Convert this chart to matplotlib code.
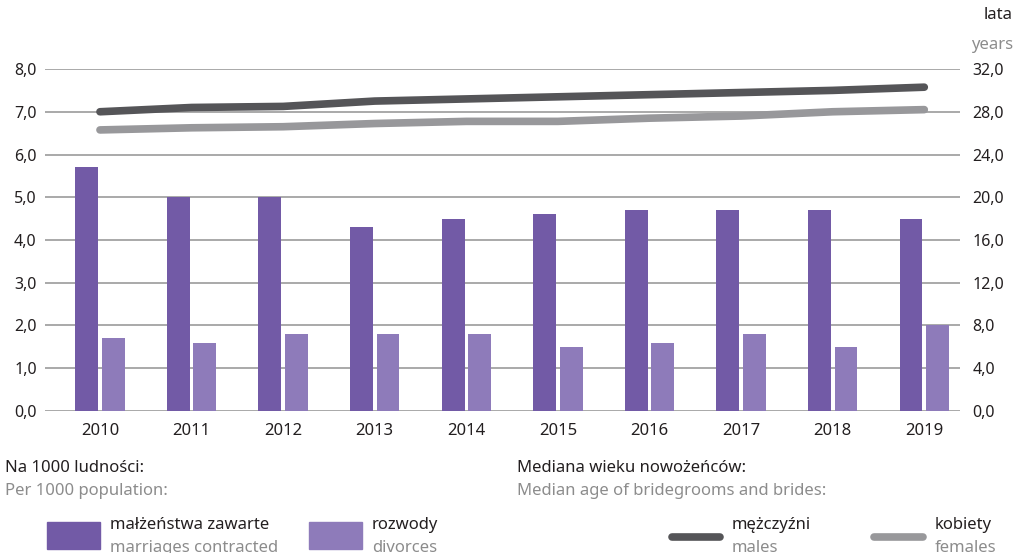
import matplotlib
matplotlib.use('Agg')
import matplotlib.pyplot as plt
import numpy as np
from matplotlib.patches import Rectangle
from matplotlib.lines import Line2D

plt.rcParams['font.family'] = ['Noto Sans', 'DejaVu Sans']

years = ['2010', '2011', '2012', '2013', '2014', '2015', '2016', '2017', '2018', '2019']
marriages = [5.7, 5.0, 5.0, 4.3, 4.5, 4.6, 4.7, 4.7, 4.7, 4.5]
divorces = [1.7, 1.6, 1.8, 1.8, 1.8, 1.5, 1.6, 1.8, 1.5, 2.0]
males_age = [28.0, 28.4, 28.5, 29.0, 29.2, 29.4, 29.6, 29.8, 30.0, 30.3]
females_age = [26.3, 26.5, 26.6, 26.9, 27.1, 27.1, 27.4, 27.6, 28.0, 28.2]

c_marr = '#725aa6'
c_div = '#8e7bba'
c_male = '#555558'
c_fem = '#98989b'
c_text = '#231f20'
c_gray = '#8c8c8c'
c_grid = '#a3a3a3'

fig = plt.figure(figsize=(10.16, 5.53), dpi=100)
ax = fig.add_axes([0.0443, 0.2568, 0.9006, 0.6184])
ax2 = ax.twinx()

x = np.arange(len(years))
w = 0.25
ax.bar(x - 0.145, marriages, width=w, color=c_marr, zorder=3)
ax.bar(x + 0.145, divorces, width=w, color=c_div, zorder=3)

ax.set_ylim(0, 8)
ax.set_yticks(np.arange(0, 8.01, 1))
ax.set_yticklabels([f'{v:.1f}'.replace('.', ',') for v in np.arange(0, 8.01, 1)])
ax.grid(axis='y', color=c_grid, linewidth=1.3, zorder=0)
ax.set_axisbelow(True)
ax.set_xlim(-0.6, 9.39)
ax.set_xticks(x)
ax.set_xticklabels(years)

ax2.set_ylim(0, 32)
ax2.set_yticks(np.arange(0, 32.01, 4))
ax2.set_yticklabels([f'{v:.1f}'.replace('.', ',') for v in np.arange(0, 32.01, 4)])
ax2.plot(x, males_age, color=c_male, linewidth=5.5, solid_capstyle='round', zorder=4)
ax2.plot(x, females_age, color=c_fem, linewidth=5.5, solid_capstyle='round', zorder=4)

for a in (ax, ax2):
    for s in a.spines.values():
        s.set_visible(False)
    a.tick_params(length=0, labelsize=11.5, colors=c_text)
ax.tick_params(axis='y', pad=6)
ax2.tick_params(axis='y', pad=9)
ax.tick_params(axis='x', pad=9, labelsize=12)

fig.text(0.997, 0.972, 'lata', ha='right', va='center', fontsize=12, color=c_text)
fig.text(0.997, 0.918, 'years', ha='right', va='center', fontsize=12, color=c_gray)

# legend area
fs = 12
fig.text(0.005, 0.153, 'Na 1000 ludności:', ha='left', va='center', fontsize=fs, color=c_text)
fig.text(0.005, 0.113, 'Per 1000 population:', ha='left', va='center', fontsize=fs, color=c_gray)
fig.text(0.509, 0.153, 'Mediana wieku nowożeńców:', ha='left', va='center', fontsize=fs, color=c_text)
fig.text(0.509, 0.113, 'Median age of bridegrooms and brides:', ha='left', va='center', fontsize=fs, color=c_gray)

fig.patches.append(Rectangle((47 / 1016, 1 - 549 / 553), 53 / 1016, 27 / 553,
                             transform=fig.transFigure, color=c_marr))
fig.patches.append(Rectangle((309 / 1016, 1 - 549 / 553), 53 / 1016, 27 / 553,
                             transform=fig.transFigure, color=c_div))
fig.text(110 / 1016, 1 - 525 / 553, 'małżeństwa zawarte', ha='left', va='center', fontsize=fs, color=c_text)
fig.text(110 / 1016, 1 - 548 / 553, 'marriages contracted', ha='left', va='center', fontsize=fs, color=c_gray)
fig.text(372 / 1016, 1 - 525 / 553, 'rozwody', ha='left', va='center', fontsize=fs, color=c_text)
fig.text(372 / 1016, 1 - 548 / 553, 'divorces', ha='left', va='center', fontsize=fs, color=c_gray)

fig.lines.append(Line2D([672 / 1016, 720 / 1016], [1 - 537 / 553] * 2, transform=fig.transFigure,
                        color=c_male, linewidth=5.5, solid_capstyle='round'))
fig.lines.append(Line2D([874 / 1016, 923 / 1016], [1 - 537 / 553] * 2, transform=fig.transFigure,
                        color=c_fem, linewidth=5.5, solid_capstyle='round'))
fig.text(732 / 1016, 1 - 525 / 553, 'mężczyźni', ha='left', va='center', fontsize=fs, color=c_text)
fig.text(732 / 1016, 1 - 548 / 553, 'males', ha='left', va='center', fontsize=fs, color=c_gray)
fig.text(935 / 1016, 1 - 525 / 553, 'kobiety', ha='left', va='center', fontsize=fs, color=c_text)
fig.text(935 / 1016, 1 - 548 / 553, 'females', ha='left', va='center', fontsize=fs, color=c_gray)

fig.savefig('out.png', dpi=100)
